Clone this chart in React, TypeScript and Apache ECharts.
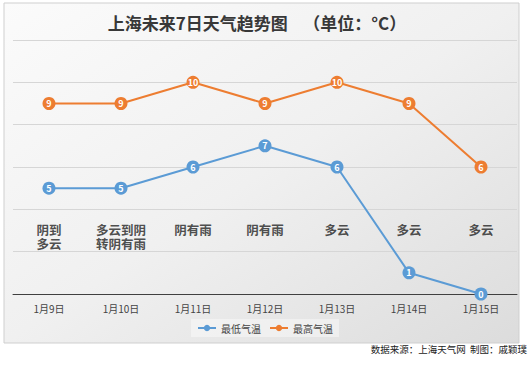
import React, { useEffect, useRef } from "react";
import * as echarts from "echarts";

const categories = ["1月9日", "1月10日", "1月11日", "1月12日", "1月13日", "1月14日", "1月15日"];
const lowTemps = [5, 5, 6, 7, 6, 1, 0];
const highTemps = [9, 9, 10, 9, 10, 9, 6];
const weatherLine1 = ["阴到", "多云到阴", "阴有雨", "阴有雨", "多云", "多云", "多云"];
const weatherLine2 = ["多云", "转阴有雨", "", "", "", "", ""];
const weatherRow1 = 3.36;
const weatherRow2 = 2.7;
const titleText = "上海未来7日天气趋势图    （单位：°C）";
const sourceText = "数据来源：上海天气网  制图：戚颖璞";

const FONT = "'Noto Sans CJK SC', 'Noto Sans', sans-serif";

function weatherSeries(name: string, lines: string[], row: number) {
  return {
    name,
    type: "scatter",
    data: lines.map((w, i) => ({ value: [i, row], name: w })),
    symbolSize: 1,
    itemStyle: { color: "rgba(0,0,0,0)" },
    silent: true,
    label: {
      show: true,
      position: "bottom",
      distance: 0,
      formatter: (p: any) => p.name,
      color: "#222",
      fontSize: 12.5,
      lineHeight: 13,
      fontWeight: "bold",
      align: "center",
      fontFamily: FONT,
    },
  };
}

export default function App() {
  const ref = useRef<HTMLDivElement>(null);
  useEffect(() => {
    if (!ref.current) return;
    const chart = echarts.init(ref.current, null, { renderer: "svg" });
    chart.setOption({
      animation: false,
      textStyle: { fontFamily: FONT },
      graphic: [
        {
          type: "rect",
          z: -100,
          silent: true,
          shape: { x: 4, y: 3, width: 515, height: 340 },
          style: {
            fill: new echarts.graphic.LinearGradient(0, 0, 1, 1, [
              { offset: 0, color: "#fbfbfb" },
              { offset: 0.5, color: "#f0f0f0" },
              { offset: 1, color: "#dcdcdc" },
            ]),
            stroke: "#cfcfcf",
            lineWidth: 1,
          },
        },
        {
          type: "text",
          x: 257,
          y: 22,
          style: {
            text: titleText,
            fill: "#383838",
            font: `bold 17px ${FONT}`,
            align: "center",
            verticalAlign: "middle",
          },
        },
        {
          type: "text",
          x: 527,
          y: 349,
          style: {
            text: sourceText,
            fill: "#222",
            font: `9.5px ${FONT}`,
            align: "right",
            verticalAlign: "middle",
          },
        },
      ],
      grid: { left: 13, right: 13, top: 40, bottom: 71, containLabel: false },
      legend: {
        data: ["最低气温", "最高气温"],
        left: "center",
        top: 319,
        itemWidth: 18,
        itemHeight: 8,
        itemGap: 8,
        padding: [4, 6],
        backgroundColor: "rgba(255,255,255,0.4)",
        textStyle: { fontSize: 10, color: "#444", fontFamily: FONT },
      },
      xAxis: {
        type: "category",
        data: categories,
        boundaryGap: true,
        axisLine: { show: true, lineStyle: { color: "#404040", width: 1 } },
        axisTick: { show: false },
        axisLabel: { color: "#444", fontSize: 10, margin: 9, fontFamily: FONT },
      },
      yAxis: {
        type: "value",
        min: 0,
        max: 12,
        interval: 2,
        axisLabel: { show: false },
        axisLine: { show: false },
        axisTick: { show: false },
        splitLine: { lineStyle: { color: "#d6d6d6", width: 1 } },
      },
      series: [
        {
          name: "最低气温",
          type: "line",
          data: lowTemps,
          symbol: "circle",
          symbolSize: 13,
          lineStyle: { color: "#5B9BD5", width: 2 },
          itemStyle: { color: "#5B9BD5" },
          label: {
            show: true,
            position: "inside",
            color: "#fff",
            fontSize: 9,
            fontWeight: "bold",
            fontFamily: FONT,
          },
          z: 3,
        },
        {
          name: "最高气温",
          type: "line",
          data: highTemps,
          symbol: "circle",
          symbolSize: 13,
          lineStyle: { color: "#ED7D31", width: 2 },
          itemStyle: { color: "#ED7D31" },
          label: {
            show: true,
            position: "inside",
            color: "#fff",
            fontSize: 9,
            fontWeight: "bold",
            fontFamily: FONT,
          },
          z: 3,
        },
        weatherSeries("天气1", weatherLine1, weatherRow1),
        weatherSeries("天气2", weatherLine2, weatherRow2),
      ],
    });
    return () => chart.dispose();
  }, []);
  return (
    <div
      ref={ref}
      style={{ position: "absolute", left: 0, top: 0, width: 530, height: 365, background: "#fff" }}
    />
  );
}
